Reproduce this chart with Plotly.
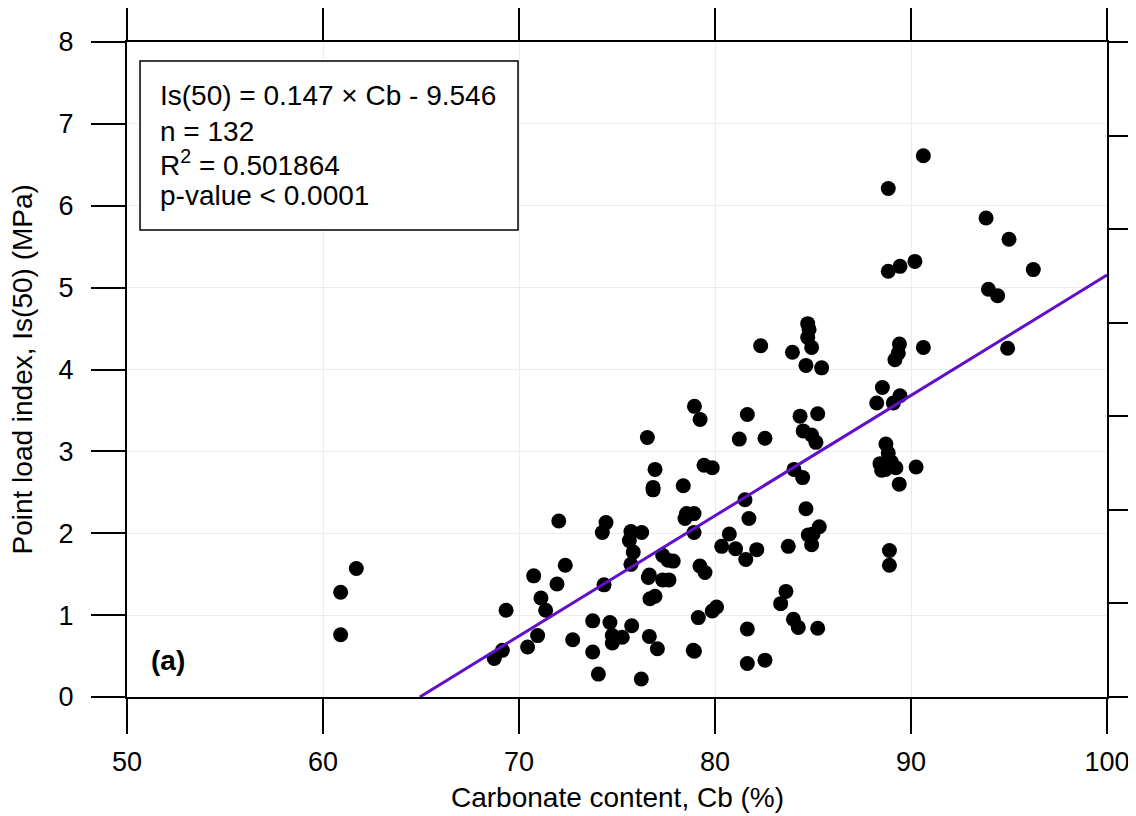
import plotly.graph_objects as go

# Teneur en carbonate (Cb, %) et indice de charge ponctuelle Is(50) (MPa)
cb = [60.9, 60.9, 61.7, 68.74, 69.15, 69.34, 70.44, 70.75, 70.95, 71.12,
      71.36, 71.94, 72.03, 72.36, 72.74, 73.76, 73.76, 74.05, 74.25, 74.34,
      74.44, 74.64, 74.76, 74.76, 75.27, 75.63, 75.75, 75.83, 75.71, 75.71,
      76.26, 76.24, 76.55, 76.65, 76.6, 76.68, 76.65, 76.94, 76.84, 76.84,
      76.94, 77.06, 77.33, 77.6, 77.33, 77.65, 77.87, 78.38, 78.55, 78.47,
      78.93, 78.89, 78.95, 78.95, 78.93, 79.24, 79.15, 79.23, 79.44, 79.49,
      79.86, 79.86, 80.08, 80.34, 80.73, 81.05, 81.24, 81.57, 81.53, 81.65,
      81.65, 81.65, 81.73, 82.13, 82.33, 82.55, 82.55, 83.35, 83.62, 83.74,
      83.95, 84.03, 84.0, 84.25, 84.34, 84.47, 84.5, 84.64, 84.64, 84.73,
      84.8, 84.73, 84.76, 84.93, 84.93, 84.93, 85.0, 85.15, 85.24, 85.24,
      85.32, 85.44, 88.25, 88.54, 88.42, 88.5, 88.72, 88.84, 89.0, 88.7,
      88.84, 88.84, 88.9, 88.9, 89.1, 89.23, 89.18, 89.35, 89.44, 89.41,
      89.44, 89.4, 90.2, 90.26, 90.63, 90.63, 93.83, 93.95, 94.42, 95.0,
      94.93, 96.24]
is50 = [1.28, 0.76, 1.57, 0.47, 0.57, 1.06, 0.61, 1.48, 0.75, 1.21,
        1.06, 1.38, 2.15, 1.61, 0.70, 0.55, 0.93, 0.28, 2.01, 1.37,
        2.13, 0.91, 0.75, 0.66, 0.73, 1.91, 0.87, 1.77, 1.62, 2.02,
        2.01, 0.22, 3.17, 1.49, 1.46, 1.20, 0.74, 2.78, 2.56, 2.53,
        1.23, 0.59, 1.73, 1.67, 1.43, 1.43, 1.66, 2.58, 2.24, 2.18,
        2.24, 0.57, 0.56, 3.55, 2.01, 3.39, 0.97, 1.60, 2.83, 1.52,
        2.80, 1.05, 1.10, 1.84, 1.99, 1.81, 3.15, 1.68, 2.41, 0.83,
        0.41, 3.45, 2.18, 1.80, 4.29, 3.16, 0.45, 1.14, 1.29, 1.84,
        4.21, 2.78, 0.95, 0.85, 3.43, 2.68, 3.25, 2.30, 4.05, 4.56,
        4.49, 4.39, 1.98, 4.27, 3.20, 1.86, 1.99, 3.11, 3.46, 0.84,
        2.08, 4.02, 3.59, 3.78, 2.85, 2.77, 3.09, 2.98, 2.87, 2.78,
        6.21, 5.20, 1.79, 1.61, 3.59, 2.80, 4.12, 4.20, 3.68, 4.31,
        5.26, 2.60, 5.32, 2.81, 6.61, 4.27, 5.85, 4.98, 4.90, 5.59,
        4.26, 5.22]

# Droite de régression
fit_slope = 0.147
fit_intercept = -9.546
fit_cb = [64.94, 100]
fit_is = [fit_slope * v + fit_intercept for v in fit_cb]

x_ticks = [50, 60, 70, 80, 90, 100]
y_ticks = [0, 1, 2, 3, 4, 5, 6, 7, 8]

stats = ["Is(50) = 0.147 \u00d7 Cb - 9.546", "n = 132",
         "R<sup>2</sup> = 0.501864", "p-value < 0.0001"]

font = "Liberation Sans, Arial, sans-serif"

fig = go.Figure()
fig.add_trace(go.Scatter(x=cb, y=is50, mode="markers",
                         marker=dict(color="black", size=15, line=dict(width=0)),
                         showlegend=False))
fig.add_trace(go.Scatter(x=fit_cb, y=fit_is, mode="lines",
                         line=dict(color="#6010c8", width=3), showlegend=False))
# axe secondaire (graduations de droite)
fig.add_trace(go.Scatter(x=[None], y=[None], yaxis="y2", showlegend=False,
                         hoverinfo="skip"))

# la page html ajoute 8 px de marge autour de la figure
fig.update_layout(
    width=1128, height=808,
    margin=dict(l=119, r=29, t=34, b=119, autoexpand=False),
    paper_bgcolor="white", plot_bgcolor="white",
    font=dict(family=font, size=27, color="black"),
    xaxis=dict(range=[50, 100], tickvals=x_ticks, ticks="outside", ticklen=35,
               tickwidth=1.5, tickcolor="black", showline=True, linecolor="black",
               linewidth=2, mirror="ticks", showgrid=True, gridcolor="#ececec",
               gridwidth=1, zeroline=False, ticklabelstandoff=5, automargin=False),
    yaxis=dict(range=[0, 8], tickvals=y_ticks, ticks="outside", ticklen=34,
               tickwidth=1.5, tickcolor="black", showline=True, linecolor="black",
               linewidth=2, showgrid=True, gridcolor="#ececec", gridwidth=1,
               zeroline=False, ticklabelstandoff=12, automargin=False),
    yaxis2=dict(range=[0, 7], dtick=1, overlaying="y", side="right",
                ticks="outside", ticklen=30, tickwidth=1.5, tickcolor="black",
                showline=True, linecolor="black", linewidth=2, automargin=False,
                showticklabels=False, showgrid=False, zeroline=False),
)

# titres des axes
fig.add_annotation(text="Carbonate content, Cb (%)", xref="paper", yref="paper",
                   x=0.5, y=0, yshift=-100, xanchor="center", yanchor="middle",
                   showarrow=False, font=dict(size=28))
fig.add_annotation(text="Point load index, Is(50) (MPa)", xref="paper", yref="paper",
                   x=0, y=0.5, xshift=-105, xanchor="center", yanchor="middle",
                   textangle=-90, showarrow=False, font=dict(size=28))

# encadré des statistiques
fig.add_shape(type="rect", xref="paper", yref="paper",
              x0=0.0133, x1=0.399, y0=0.713, y1=0.971,
              line=dict(color="black", width=1.5), fillcolor="white", layer="above")
line_y = [0.9176, 0.8641, 0.8153, 0.7649]
for txt, yy in zip(stats, line_y):
    fig.add_annotation(text=txt, xref="paper", yref="paper", x=0.0316, y=yy,
                       xanchor="left", yanchor="middle", showarrow=False,
                       font=dict(size=28))

fig.add_annotation(text="<b>(a)</b>", x=51.1, y=0.45, xanchor="left",
                   yanchor="middle", showarrow=False, font=dict(size=28))

fig.write_html("out.html")
